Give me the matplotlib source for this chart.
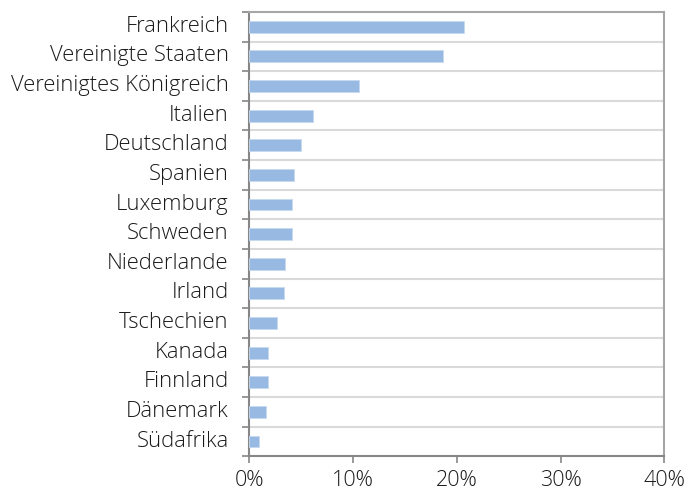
import matplotlib
matplotlib.use('Agg')
import matplotlib.pyplot as plt
import matplotlib.transforms as mtrans
from matplotlib.ticker import FuncFormatter, FixedLocator

countries = ['Frankreich', 'Vereinigte Staaten', 'Vereinigtes Königreich', 'Italien',
             'Deutschland', 'Spanien', 'Luxemburg', 'Schweden', 'Niederlande', 'Irland',
             'Tschechien', 'Kanada', 'Finnland', 'Dänemark', 'Südafrika']
shares = [20.7, 18.7, 10.6, 6.1, 4.95, 4.3, 4.1, 4.15, 3.45, 3.3, 2.65, 1.8, 1.75, 1.6, 0.93]
x_ticks = [0, 10, 20, 30, 40]

plt.rcParams['font.family'] = ['Open Sans', 'DejaVu Sans']
plt.rcParams['font.weight'] = 'light'

fig = plt.figure(figsize=(6.89, 4.95), dpi=100)
ax = fig.add_axes([0.362, 0.078, 0.602, 0.898])

n = len(countries)
pos = list(range(n))
ax.barh(pos, shares, height=0.4, color='#98B9E1', edgecolor='#C6D9F0', linewidth=0.6, zorder=3)

ax.set_xlim(0, 40)
ax.set_ylim(n - 0.5, -0.5)
ax.set_xticks(x_ticks)
ax.xaxis.set_major_formatter(FuncFormatter(lambda v, p: '{:.0f}%'.format(v)))

ax.set_yticks(pos)
ax.set_yticklabels(countries)
bounds = [i - 0.5 for i in range(n + 1)]
ax.yaxis.set_minor_locator(FixedLocator(bounds))
ax.tick_params(axis='y', which='major', length=0, pad=15, labelsize=15.8, colors='#1a1a1a')
ax.tick_params(axis='y', which='minor', length=5, width=1.2, color='#868686', direction='out')
ax.tick_params(axis='x', which='major', length=5, width=1.2, color='#868686', pad=5,
               labelsize=15.5, labelcolor='#1a1a1a')

# labels sit a little above the bar centres in the original
shift = mtrans.ScaledTranslation(0, 3 / 100, fig.dpi_scale_trans)
for lab in ax.get_yticklabels():
    lab.set_transform(lab.get_transform() + shift)

for b in bounds[1:-1]:
    ax.axhline(b, color='#D9D9D9', linewidth=1.5, zorder=1)

for side in ['left', 'bottom']:
    ax.spines[side].set_color('#868686')
    ax.spines[side].set_linewidth(1.5)
for side in ['top', 'right']:
    ax.spines[side].set_color('#A6A6A6')
    ax.spines[side].set_linewidth(1.5)

plt.savefig('out.png', dpi=100)
